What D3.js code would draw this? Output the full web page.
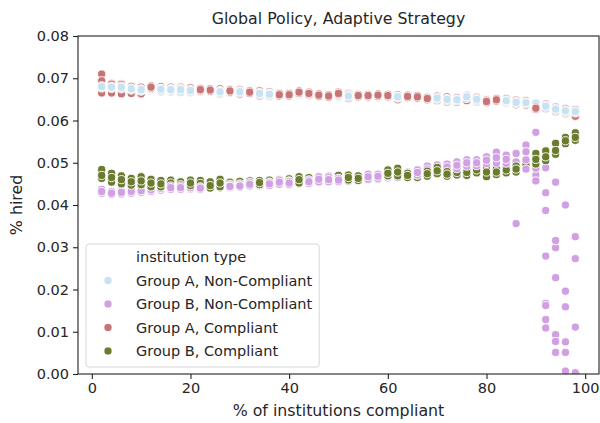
<!DOCTYPE html>
<html>
<head>
<meta charset="utf-8">
<script src="https://cdn.jsdelivr.net/npm/d3@7"></script>
<style>
  body { margin: 0; background: #fff; }
  text { font-family: "DejaVu Sans", sans-serif; fill: #262626; }
</style>
</head>
<body>
<div id="chart"></div>
<script>
// x = % of institutions compliant
var xs = [2,4,6,8,10,12,14,16,18,20,22,24,26,28,30,32,34,36,38,40,42,44,46,48,50,
          52,54,56,58,60,62,64,66,68,70,72,74,76,78,80,82,84,86,88,90,92,94,96,98];

// Group A, Non-Compliant (3 runs)
var aNonCompLo = [.0677,.0676,.0675,.0672,.0670,.0671,.0670,.0670,.0669,.0668,.0667,.0666,.0665,.0664,.0665,.0663,.0661,.0659,.0659,.0658,.0659,.0658,.0657,.0656,.0655,
                  .0655,.0654,.0653,.0653,.0653,.0653,.0652,.0651,.0650,.0650,.0647,.0646,.0652,.0647,.0646,.0645,.0644,.0640,.0639,.0638,.0631,.0624,.0620,.0618];
var aNonCompMid = [.0680,.0679,.0679,.0675,.0673,.0674,.0674,.0673,.0673,.0671,.0670,.0669,.0668,.0668,.0668,.0666,.0664,.0662,.0662,.0661,.0662,.0661,.0660,.0659,.0658,
                   .0658,.0657,.0657,.0656,.0656,.0656,.0655,.0654,.0653,.0653,.0650,.0649,.0656,.0650,.0649,.0648,.0647,.0643,.0642,.0641,.0634,.0627,.0623,.0621];
var aNonCompHi = [.0682,.0681,.0681,.0677,.0675,.0676,.0676,.0675,.0675,.0673,.0672,.0671,.0670,.0670,.0670,.0668,.0666,.0664,.0664,.0663,.0664,.0663,.0662,.0661,.0660,
                  .0660,.0659,.0659,.0658,.0658,.0658,.0657,.0656,.0655,.0655,.0652,.0651,.0658,.0652,.0651,.0650,.0649,.0645,.0644,.0643,.0636,.0629,.0625,.0623];

// Group B, Non-Compliant
var bNonCompLo = [.0428,.0425,.0426,.0428,.0430,.0432,.0435,.0437,.0437,.0438,.0437,.0440,.0440,.0441,.0442,.0445,.0445,.0446,.0449,.0448,.0450,.0451,.0455,.0455,.0455,
                  .0456,.0457,.0461,.0463,.0464,.0465,.0466,.0471,.0478,.0481,.0483,.0486,.0492,.0493,.0498,.0499,.0499,.0484,.0507,.0471,.0387,.0299,.0159,.0111];
var bNonCompMid = [.0432,.0428,.0430,.0432,.0434,.0436,.0439,.0441,.0441,.0441,.0440,.0443,.0444,.0444,.0445,.0449,.0448,.0450,.0454,.0452,.0454,.0455,.0461,.0460,.0459,
                   .0461,.0462,.0467,.0468,.0468,.0470,.0472,.0477,.0485,.0488,.0490,.0494,.0500,.0500,.0506,.0512,.0508,.0502,.0526,.0487,.0429,.0316,.0196,.0273];
var bNonCompHi = [.0437,.0432,.0434,.0436,.0438,.0440,.0443,.0445,.0445,.0445,.0443,.0446,.0448,.0447,.0448,.0453,.0451,.0453,.0459,.0456,.0458,.0459,.0467,.0465,.0463,
                  .0466,.0467,.0473,.0473,.0472,.0474,.0478,.0483,.0492,.0495,.0497,.0502,.0507,.0507,.0514,.0525,.0518,.0522,.0542,.0572,.0488,.0454,.0400,.0325];
// extra Group B, Non-Compliant runs that fall away near 100%
var bNonCompTail = [[86,.0356],[88,.0485],[90,.0457],[92,.0279],[92,.0167],[92,.0162],[92,.0129],[92,.0109],
                    [94,.0228],[94,.0093],[94,.0077],[94,.0051],[96,.0076],[96,.0051],[96,.0007],[98,.0003]];

// Group A, Compliant
var aCompLo = [.0665,.0665,.0663,.0664,.0663,.0676,.0668,.0668,.0667,.0666,.0670,.0669,.0663,.0667,.0662,.0664,.0658,.0657,.0658,.0658,.0664,.0661,.0657,.0655,.0661,
               .0652,.0656,.0656,.0657,.0656,.0649,.0654,.0653,.0649,.0647,.0644,.0643,.0650,.0644,.0642,.0646,.0642,.0637,.0636,.0626,.0628,.0621,.0616,.0609];
var aCompMid = [.0694,.0686,.0685,.0664,.0670,.0679,.0676,.0675,.0676,.0672,.0673,.0672,.0671,.0670,.0669,.0667,.0665,.0665,.0661,.0661,.0667,.0664,.0660,.0658,.0664,
                .0662,.0659,.0659,.0660,.0659,.0654,.0657,.0656,.0652,.0652,.0651,.0648,.0647,.0646,.0645,.0649,.0645,.0642,.0642,.0629,.0633,.0625,.0619,.0610];
var aCompHi = [.0710,.0688,.0687,.0681,.0679,.0682,.0680,.0679,.0679,.0677,.0676,.0675,.0675,.0673,.0673,.0670,.0670,.0668,.0664,.0664,.0670,.0667,.0663,.0661,.0667,
               .0664,.0662,.0662,.0663,.0662,.0661,.0660,.0659,.0655,.0658,.0656,.0654,.0660,.0655,.0648,.0652,.0652,.0648,.0647,.0632,.0639,.0632,.0628,.0626];

// Group B, Compliant
var bCompLo = [.0463,.0454,.0450,.0447,.0448,.0443,.0443,.0446,.0442,.0446,.0445,.0440,.0443,.0444,.0445,.0447,.0448,.0449,.0450,.0451,.0452,.0453,.0454,.0456,.0457,
               .0459,.0458,.0460,.0461,.0469,.0469,.0465,.0465,.0468,.0474,.0468,.0471,.0470,.0476,.0467,.0472,.0476,.0478,.0487,.0497,.0505,.0520,.0545,.0553];
var bCompMid = [.0470,.0465,.0460,.0455,.0457,.0452,.0450,.0452,.0448,.0452,.0451,.0446,.0452,.0449,.0450,.0452,.0453,.0454,.0455,.0457,.0460,.0459,.0460,.0462,.0463,
                .0465,.0463,.0465,.0466,.0475,.0478,.0470,.0471,.0474,.0481,.0473,.0477,.0477,.0483,.0478,.0478,.0483,.0485,.0495,.0508,.0514,.0529,.0552,.0560];
var bCompHi = [.0484,.0475,.0469,.0463,.0467,.0461,.0458,.0459,.0455,.0459,.0458,.0455,.0461,.0454,.0456,.0457,.0458,.0459,.0460,.0462,.0467,.0465,.0466,.0468,.0470,
               .0471,.0469,.0470,.0472,.0483,.0487,.0475,.0478,.0480,.0489,.0479,.0484,.0485,.0491,.0490,.0486,.0490,.0492,.0505,.0522,.0528,.0546,.0560,.0571];

// which colour sits on top in each column (b = blue/red band, g = green/purple band)
var upperOnTop = "bbbbbrbbbbrrbrbrbbrrrrrrrbrrrrbrrrbbbbbrrbbbrbbbb";
var lowerOnTop = "gggggggppgpggpppgpppgppppggppgggpgggppppppgpggggg";

var yTicks = [0, 0.01, 0.02, 0.03, 0.04, 0.05, 0.06, 0.07, 0.08];
var xTicks = [0, 20, 40, 60, 80, 100];

var groups = [
  {name: "Group A, Non-Compliant", color: "#c6e2f3", runs: [aNonCompLo, aNonCompHi, aNonCompMid]},
  {name: "Group B, Non-Compliant", color: "#d0a0e2", runs: [bNonCompLo, bNonCompHi, bNonCompMid]},
  {name: "Group A, Compliant", color: "#c87474", runs: [aCompLo, aCompHi, aCompMid]},
  {name: "Group B, Compliant", color: "#6a7b2e", runs: [bCompLo, bCompHi, bCompMid]}
];

var width = 600, height = 423;
var plotLeft = 78, plotRight = 599, plotTop = 36, plotBottom = 374;

var svg = d3.select("#chart").append("svg")
  .attr("width", width)
  .attr("height", height);

var x = d3.scaleLinear().domain([-2.8, 102.8]).range([plotLeft, plotRight]);
var y = d3.scaleLinear().domain([0, 0.08]).range([plotBottom, plotTop]);

svg.append("clipPath").attr("id", "plotclip")
  .append("rect")
  .attr("x", plotLeft).attr("y", plotTop)
  .attr("width", plotRight - plotLeft).attr("height", plotBottom - plotTop);

// build points in drawing order, column by column
var points = [];
xs.forEach(function(xv, i) {
  var lowerOrder = lowerOnTop[i] === "g" ? [1, 3] : [3, 1];
  var upperOrder = upperOnTop[i] === "b" ? [2, 0] : [0, 2];
  lowerOrder.concat(upperOrder).forEach(function(g) {
    groups[g].runs.forEach(function(run) {
      points.push({x: xv, y: run[i], color: groups[g].color});
    });
  });
  bNonCompTail.forEach(function(p) {
    if (p[0] === xv) points.push({x: p[0], y: p[1], color: groups[1].color});
  });
});

svg.append("g")
  .attr("clip-path", "url(#plotclip)")
  .selectAll("circle")
  .data(points)
  .enter()
  .append("circle")
  .attr("cx", function(d) { return x(d.x); })
  .attr("cy", function(d) { return y(d.y); })
  .attr("r", 4.1)
  .style("fill", function(d) { return d.color; })
  .style("stroke", "#fff")
  .style("stroke-width", 0.9);

// axes
var yAxis = svg.append("g")
  .attr("transform", "translate(" + plotLeft + ",0)")
  .call(d3.axisLeft(y).tickValues(yTicks).tickFormat(d3.format(".2f")).tickSize(5).tickPadding(4));
var xAxis = svg.append("g")
  .attr("transform", "translate(0," + plotBottom + ")")
  .call(d3.axisBottom(x).tickValues(xTicks).tickSize(5).tickPadding(4));

[xAxis, yAxis].forEach(function(ax) {
  ax.select(".domain").remove();
  ax.selectAll("line").style("stroke", "#222").style("stroke-width", 1.1);
  ax.selectAll("text").style("font-size", "14.5px").style("fill", "#262626")
    .style("font-family", "DejaVu Sans, sans-serif");
});

// frame
svg.append("rect")
  .attr("x", plotLeft).attr("y", plotTop)
  .attr("width", plotRight - plotLeft).attr("height", plotBottom - plotTop)
  .style("fill", "none")
  .style("stroke", "#222")
  .style("stroke-width", 1.1);

// labels
var midX = (plotLeft + plotRight) / 2;
svg.append("text")
  .attr("x", midX).attr("y", 24)
  .attr("text-anchor", "middle")
  .style("font-size", "15.8px")
  .text("Global Policy, Adaptive Strategy");

svg.append("text")
  .attr("x", midX).attr("y", 416)
  .attr("text-anchor", "middle")
  .style("font-size", "15.8px")
  .text("% of institutions compliant");

svg.append("text")
  .attr("transform", "translate(22," + ((plotTop + plotBottom) / 2) + ") rotate(-90)")
  .attr("text-anchor", "middle")
  .style("font-size", "15.8px")
  .text("% hired");

// legend
var legend = svg.append("g");
var legBox = legend.append("rect")
  .attr("x", 86).attr("y", 244)
  .attr("rx", 3).attr("ry", 3)
  .attr("height", 123)
  .style("fill", "#fff")
  .style("fill-opacity", 0.8)
  .style("stroke", "#d6d6d6")
  .style("stroke-width", 1);

var legTexts = ["institution type"].concat(groups.map(function(g) { return g.name; }));
var rowY = function(i) { return 257 + i * 23.5; };

var labels = legend.selectAll("text.leg")
  .data(legTexts)
  .enter()
  .append("text")
  .attr("class", "leg")
  .attr("x", 136)
  .attr("y", function(d, i) { return rowY(i) + 5; })
  .style("font-size", "14.5px")
  .text(function(d) { return d; });

legend.selectAll("circle")
  .data(groups)
  .enter()
  .append("circle")
  .attr("cx", 108)
  .attr("cy", function(d, i) { return rowY(i + 1); })
  .attr("r", 4.1)
  .style("fill", function(d) { return d.color; })
  .style("stroke", "#fff")
  .style("stroke-width", 0.9);

var maxW = d3.max(labels.nodes(), function(n) { return n.getComputedTextLength(); });
legBox.attr("width", 136 + maxW + 7 - 86);
</script>
</body>
</html>
